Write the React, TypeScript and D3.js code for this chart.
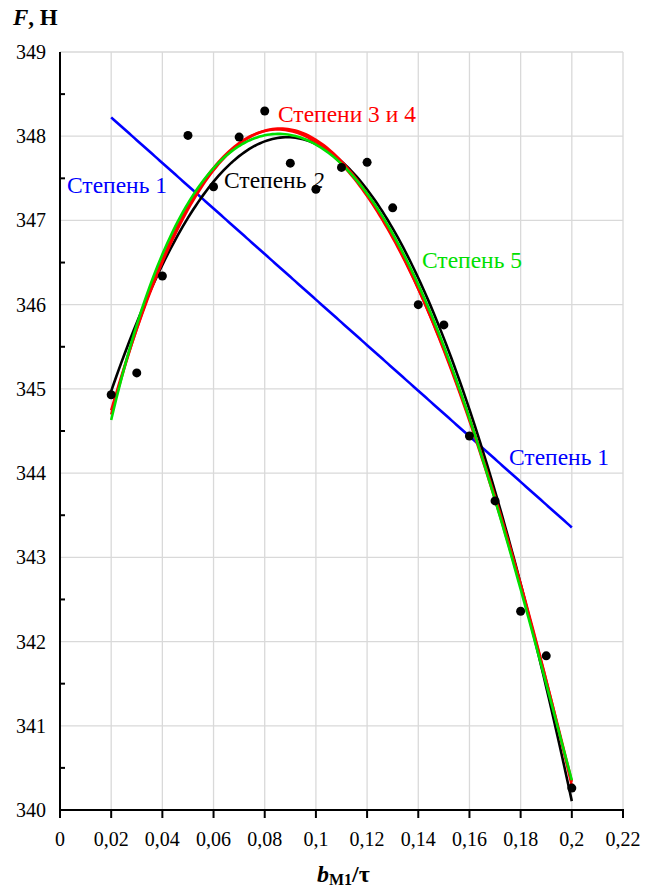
import React from "react";
import * as d3 from "d3";

// measured points: relative width b/tau and force F, N
const xs = [0.02, 0.03, 0.04, 0.05, 0.06, 0.07, 0.08, 0.09, 0.1, 0.11, 0.12, 0.13, 0.14, 0.15, 0.16, 0.17, 0.18, 0.19, 0.2];
const forces = [344.93, 345.19, 346.34, 348.01, 347.4, 347.99, 348.3, 347.68, 347.37, 347.63, 347.69, 347.15, 346.0, 345.76, 344.44, 343.67, 342.36, 341.83, 340.26];

const xTicks = [0, 0.02, 0.04, 0.06, 0.08, 0.1, 0.12, 0.14, 0.16, 0.18, 0.2, 0.22];
const yTicks = [340, 341, 342, 343, 344, 345, 346, 347, 348, 349];
const yMinor = [340.5, 341.5, 342.5, 343.5, 344.5, 345.5, 346.5, 347.5, 348.5];

// trendlines: degree, colour (drawing order)
const trends = [
  { deg: 1, color: "#0000ff" },
  { deg: 2, color: "#000000" },
  { deg: 4, color: "#ff0000" },
  { deg: 3, color: "#ff0000" },
  { deg: 5, color: "#00e000" },
];

// least squares polynomial on centred x
function polyFit(x: number[], y: number[], deg: number) {
  const c = 0.11, s = 0.09;
  const n = deg + 1;
  const A = Array.from({ length: n }, () => new Array(n + 1).fill(0));
  x.forEach((xi, k) => {
    const t = (xi - c) / s;
    for (let i = 0; i < n; i++) {
      for (let j = 0; j < n; j++) A[i][j] += Math.pow(t, i + j);
      A[i][n] += Math.pow(t, i) * y[k];
    }
  });
  for (let i = 0; i < n; i++) {
    let p = i;
    for (let r = i + 1; r < n; r++) if (Math.abs(A[r][i]) > Math.abs(A[p][i])) p = r;
    [A[i], A[p]] = [A[p], A[i]];
    for (let r = 0; r < n; r++) {
      if (r === i) continue;
      const f = A[r][i] / A[i][i];
      for (let j = i; j <= n; j++) A[r][j] -= f * A[i][j];
    }
  }
  const coef = A.map((row, i) => row[n] / row[i]);
  return (xv: number) => {
    const t = (xv - c) / s;
    return coef.reduce((acc, a, i) => acc + a * Math.pow(t, i), 0);
  };
}

const fmt = (v: number) => String(v).replace(".", ",");

const App = () => {
  const width = 649;
  const height = 890;
  const left = 60, right = 623, top = 52, bottom = 810;

  const x = d3.scaleLinear().domain([0, 0.22]).range([left, right]);
  const y = d3.scaleLinear().domain([340, 349]).range([bottom, top]);

  const line = d3
    .line<number[]>()
    .x(d => x(d[0]))
    .y(d => y(d[1]));

  const samples = d3.range(0, 181).map(i => 0.02 + i * 0.001);

  const font = '"Liberation Serif", "Times New Roman", serif';

  return (
    <svg width={width} height={height} style={{ position: "absolute", left: 0, top: 0, fontFamily: font }}>
      <rect width={width} height={height} fill="#fff" />
      {/* grid */}
      {xTicks.slice(1).map(t => (
        <line key={"gx" + t} x1={x(t)} x2={x(t)} y1={top} y2={bottom} stroke="#d9d9d9" strokeWidth={1.3} />
      ))}
      {yTicks.slice(1).map(t => (
        <line key={"gy" + t} x1={left} x2={right} y1={y(t)} y2={y(t)} stroke="#d9d9d9" strokeWidth={1.3} />
      ))}
      {/* axes */}
      <line x1={left} x2={left} y1={top} y2={bottom + 8} stroke="#000" strokeWidth={2} />
      <line x1={left} x2={right + 1} y1={bottom} y2={bottom} stroke="#000" strokeWidth={2} />
      {xTicks.map(t => (
        <line key={"tx" + t} x1={x(t)} x2={x(t)} y1={bottom} y2={bottom + 8} stroke="#000" strokeWidth={2} />
      ))}
      {yMinor.map(t => (
        <line key={"ty" + t} x1={left} x2={left + 5} y1={y(t)} y2={y(t)} stroke="#000" strokeWidth={2} />
      ))}
      {xTicks.map(t => (
        <text key={"lx" + t} x={x(t)} y={846} textAnchor="middle" fontSize={20}>
          {fmt(t)}
        </text>
      ))}
      {yTicks.map(t => (
        <text key={"ly" + t} x={46} y={y(t) + 7} textAnchor="end" fontSize={20}>
          {t}
        </text>
      ))}
      {/* trendlines */}
      {trends.map(tr => {
        const f = polyFit(xs, forces, tr.deg);
        return (
          <path
            key={"tr" + tr.deg}
            d={line(samples.map(v => [v, f(v)])) || ""}
            fill="none"
            stroke={tr.color}
            strokeWidth={2.6}
          />
        );
      })}
      {/* points */}
      {xs.map((v, i) => (
        <circle key={"p" + i} cx={x(v)} cy={y(forces[i])} r={4.5} fill="#000" />
      ))}
      {/* labels */}
      <g fontSize={23.5}>
        <text x={278} y={122} fill="#ff0000">Степени 3 и 4</text>
        <text x={224} y={188} fill="#000">
          Степень <tspan fontStyle="italic">2</tspan>
        </text>
        <text x={67} y={193} fill="#0000ff">Степень 1</text>
        <text x={422} y={268} fill="#00e000">Степень 5</text>
        <text x={509} y={465} fill="#0000ff">Степень 1</text>
      </g>
      {/* axis titles */}
      <text x={13} y={25} fontSize={23} fontWeight="bold">
        <tspan fontStyle="italic">F</tspan>, Н
      </text>
      <text x={317} y={882} fontSize={24} fontWeight="bold">
        <tspan fontStyle="italic">b</tspan>
        <tspan fontSize={16} dy={3}>М1</tspan>
        <tspan dy={-3}>/τ</tspan>
      </text>
    </svg>
  );
};

export default App;
